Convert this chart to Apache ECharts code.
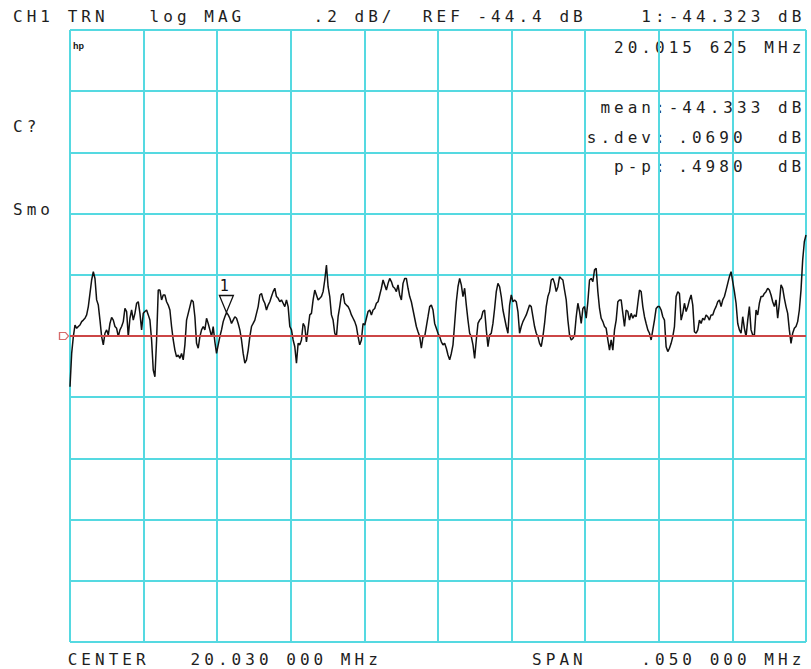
<!DOCTYPE html>
<html>
<head>
<meta charset="utf-8">
<title>CH1 TRN log MAG</title>
<script src="https://cdn.jsdelivr.net/npm/echarts@6/dist/echarts.min.js"></script>
<style>
  html, body { margin: 0; padding: 0; background: #ffffff; }
  #chart { width: 811px; height: 669px; }
  /* analyzer screen font: fixed character cells */
  #chart text { letter-spacing: 4.03px; white-space: pre; }
  #chart text[style*="Liberation Sans"] { letter-spacing: 0; }
</style>
</head>
<body>
<div id="chart"></div>
<script>
// Sweep settings
const centerMHz = 20.030;
const spanMHz = 0.050;
const refLevel = -44.4;      // dB, reference line
const scaleDiv = 0.2;        // dB per division
const divisions = 10;

// Marker 1
const markerFreq = 20.015625;
const markerValue = -44.323;

// Trace statistics
const statMean = -44.333;
const statSdev = 0.0690;
const statPP = 0.4980;

// Measured trace (dB), uniform sweep points, in three parts
const traceSeg1 = [
  -44.566, -44.457, -44.402, -44.364, -44.375, -44.369, -44.364, -44.353, -44.348, -44.342,
  -44.331, -44.304, -44.261, -44.217, -44.190, -44.212, -44.282, -44.299, -44.348, -44.402,
  -44.429, -44.391, -44.380, -44.397, -44.359, -44.339, -44.348, -44.369, -44.375, -44.402,
  -44.380, -44.369, -44.353, -44.310, -44.320, -44.402, -44.342, -44.315, -44.348, -44.326,
  -44.293, -44.288, -44.326, -44.380, -44.326, -44.320, -44.315, -44.331, -44.348, -44.413,
  -44.511, -44.533, -44.413, -44.250, -44.250, -44.282, -44.266, -44.266, -44.288, -44.299,
  -44.315, -44.369, -44.413, -44.446, -44.468, -44.462, -44.473, -44.457, -44.478, -44.429,
  -44.348, -44.326, -44.304, -44.282, -44.288, -44.337, -44.424, -44.440, -44.402, -44.380,
  -44.369, -44.380, -44.342, -44.359, -44.380, -44.402, -44.369, -44.419, -44.457, -44.429,
  -44.402, -44.380, -44.353, -44.337, -44.323, -44.331, -44.342, -44.359, -44.348, -44.337,
  -44.342, -44.359, -44.380, -44.413, -44.457, -44.489, -44.478, -44.446, -44.402, -44.369,
  -44.359, -44.348, -44.326, -44.304, -44.266, -44.261, -44.282, -44.293, -44.315, -44.299,
  -44.288, -44.271, -44.255, -44.244, -44.271, -44.277, -44.288, -44.282, -44.293, -44.304,
  -44.282, -44.304, -44.369, -44.380, -44.413, -44.435, -44.489, -44.424
];
const traceSeg2 = [
  -44.429, -44.413, -44.359, -44.369, -44.419, -44.375, -44.331, -44.326, -44.282, -44.250,
  -44.266, -44.282, -44.277, -44.271, -44.255, -44.217, -44.168, -44.239, -44.271, -44.331,
  -44.348, -44.391, -44.402, -44.337, -44.304, -44.266, -44.261, -44.293, -44.299, -44.304,
  -44.315, -44.331, -44.342, -44.353, -44.369, -44.402, -44.429, -44.413, -44.359, -44.364,
  -44.342, -44.320, -44.315, -44.331, -44.315, -44.310, -44.293, -44.288, -44.266, -44.244,
  -44.217, -44.233, -44.250, -44.228, -44.212, -44.222, -44.239, -44.244, -44.255, -44.233,
  -44.266, -44.282, -44.228, -44.212, -44.212, -44.244, -44.271, -44.288, -44.315, -44.342,
  -44.369, -44.386, -44.402, -44.440, -44.402, -44.402, -44.369, -44.337, -44.304, -44.299,
  -44.315, -44.359, -44.375, -44.391, -44.402, -44.419, -44.429, -44.424, -44.440, -44.462,
  -44.478, -44.457, -44.429, -44.359, -44.288, -44.239, -44.212, -44.233, -44.271, -44.244,
  -44.299, -44.348, -44.391, -44.402, -44.429, -44.473, -44.413, -44.359, -44.348, -44.342,
  -44.320, -44.315, -44.380, -44.435, -44.397, -44.391, -44.359, -44.310, -44.255, -44.228,
  -44.239, -44.271, -44.315, -44.342, -44.369, -44.391, -44.299, -44.266, -44.288, -44.282,
  -44.288, -44.320, -44.391, -44.369, -44.353, -44.342, -44.331, -44.315, -44.299, -44.304,
  -44.337, -44.369, -44.391, -44.402, -44.424, -44.435, -44.402, -44.359, -44.304, -44.271
];
const traceSeg3 = [
  -44.255, -44.217, -44.212, -44.228, -44.255, -44.239, -44.206, -44.212, -44.217, -44.250,
  -44.282, -44.348, -44.397, -44.413, -44.408, -44.397, -44.337, -44.293, -44.320, -44.359,
  -44.310, -44.304, -44.342, -44.288, -44.217, -44.212, -44.222, -44.184, -44.179, -44.255,
  -44.310, -44.342, -44.353, -44.369, -44.375, -44.413, -44.446, -44.413, -44.446, -44.380,
  -44.348, -44.288, -44.282, -44.282, -44.326, -44.369, -44.315, -44.320, -44.348, -44.326,
  -44.342, -44.331, -44.337, -44.293, -44.250, -44.255, -44.304, -44.337, -44.359, -44.380,
  -44.391, -44.413, -44.380, -44.348, -44.310, -44.304, -44.304, -44.315, -44.337, -44.348,
  -44.435, -44.451, -44.440, -44.424, -44.402, -44.369, -44.271, -44.255, -44.261, -44.348,
  -44.326, -44.293, -44.320, -44.304, -44.282, -44.266, -44.299, -44.386, -44.391, -44.380,
  -44.348, -44.359, -44.342, -44.348, -44.331, -44.337, -44.348, -44.331, -44.331, -44.315,
  -44.304, -44.288, -44.282, -44.304, -44.282, -44.271, -44.250, -44.228, -44.206, -44.190,
  -44.222, -44.255, -44.293, -44.359, -44.380, -44.391, -44.337, -44.375, -44.402, -44.348,
  -44.304, -44.380, -44.397, -44.397, -44.315, -44.331, -44.293, -44.271, -44.271, -44.261,
  -44.255, -44.244, -44.250, -44.266, -44.288, -44.304, -44.282, -44.342, -44.293, -44.233,
  -44.244, -44.277, -44.304, -44.326, -44.380, -44.424, -44.391, -44.375, -44.369, -44.353,
  -44.315, -44.250, -44.152, -44.092, -44.070
];

// ---- derived sweep ----
const trace = traceSeg1.concat(traceSeg2, traceSeg3);
const startMHz = centerMHz - spanMHz / 2;
const stopMHz = centerMHz + spanMHz / 2;
const nPts = trace.length;
const traceData = trace.map((v, i) => [startMHz + i * spanMHz / (nPts - 1), v]);
const topDb = refLevel + scaleDiv * divisions / 2;
const botDb = refLevel - scaleDiv * divisions / 2;

// ---- screen annotation helpers ----
const MONO = '16px "DejaVu Sans Mono"';
const INK = '#1e1e1e';
const CELL = 13.66, CELL0 = 13;
function fmtMHz(f) {
  const s = f.toFixed(6);
  const [ip, fp] = s.split('.');
  return ip + '.' + fp.slice(0, 3) + ' ' + fp.slice(3) + ' MHz';
}
function txt(str, col, baseline) {
  return {
    type: 'text', silent: true,
    x: CELL0 + col * CELL, y: baseline - 5.5,
    style: { text: str, font: MONO, fill: INK, textAlign: 'left', textVerticalAlign: 'middle' }
  };
}
const stat4 = v => v.toFixed(4).replace(/^0/, '');

const screenText = [
  txt('CH1', 0, 21.5),
  txt('TRN', 4, 21.5),
  txt('log MAG', 10, 21.5),
  txt('.' + String(scaleDiv).split('.')[1] + ' dB/', 22, 21.5),
  txt('REF ' + refLevel.toFixed(1) + ' dB', 30, 21.5),
  txt('1:' + markerValue.toFixed(3) + ' dB', 46, 21.5),
  txt(fmtMHz(markerFreq).replace(/^(\d+\.\d{3}) (\d{3})/, '$1 $2'), 44, 53.3),
  txt('mean:' + statMean.toFixed(3) + ' dB', 43, 113),
  txt('s.dev:', 42, 143),
  txt(stat4(statSdev), 48.7, 143),
  txt('dB', 56, 143),
  txt('p-p:', 44, 172),
  txt(stat4(statPP), 48.7, 172),
  txt('dB', 56, 172),
  txt('C?', 0, 131.7),
  txt('Smo', 0, 215),
  txt('CENTER', 4, 665),
  txt(fmtMHz(centerMHz), 13, 665),
  txt('SPAN', 38, 665),
  txt(fmtMHz(spanMHz).replace(/^0/, ''), 46, 665),
  {
    type: 'text', silent: true, x: 73, y: 46,
    style: { text: 'hp', font: 'bold 9px "Liberation Sans"', fill: '#111', textAlign: 'left', textVerticalAlign: 'middle' }
  }
];

const GRID_COLOR = '#55d9e1';
const REF_COLOR = '#cc4646';

const chart = echarts.init(document.getElementById('chart'), null, { renderer: 'svg' });
chart.setOption({
  animation: false,
  backgroundColor: '#ffffff',
  grid: { left: 70, right: 5, top: 30, bottom: 27, containLabel: false },
  xAxis: {
    type: 'value', min: startMHz, max: stopMHz, interval: spanMHz / divisions,
    axisLine: { show: false }, axisTick: { show: false }, axisLabel: { show: false },
    splitLine: { show: true, showMinLine: true, showMaxLine: true, lineStyle: { color: GRID_COLOR, width: 2 } }
  },
  yAxis: {
    type: 'value', min: botDb, max: topDb, interval: scaleDiv,
    axisLine: { show: false }, axisTick: { show: false }, axisLabel: { show: false },
    splitLine: { show: true, showMinLine: true, showMaxLine: true, lineStyle: { color: GRID_COLOR, width: 2 } }
  },
  series: [
    {
      type: 'line',
      data: traceData,
      showSymbol: false,
      silent: true,
      z: 3,
      lineStyle: { color: '#111111', width: 1.5 },
      markLine: {
        silent: true,
        symbol: ['none', 'none'],
        label: { show: false },
        lineStyle: { color: REF_COLOR, width: 2, type: 'solid' },
        data: [{ yAxis: refLevel }]
      },
      markPoint: {
        silent: true,
        symbol: 'path://M0,0L14,0L7,17Z',
        symbolSize: [14, 17],
        symbolOffset: [0, '-50%'],
        itemStyle: { color: 'rgba(255,255,255,0)', borderColor: '#111111', borderWidth: 1.3 },
        label: {
          show: true, formatter: '1', position: 'top', distance: 1,
          color: '#111111', fontFamily: 'DejaVu Sans Mono', fontSize: 15
        },
        data: [{ coord: [markerFreq, markerValue] }]
      }
    },
    {
      // reference position flag at the left edge
      type: 'scatter',
      silent: true,
      clip: false,
      z: 4,
      data: [[startMHz, refLevel]],
      symbol: 'path://M0,0L6,0L9,3.5L6,7L0,7Z',
      symbolSize: [9, 7],
      symbolOffset: [-6, 0],
      itemStyle: { color: '#ffffff', borderColor: REF_COLOR, borderWidth: 1.2 }
    }
  ],
  graphic: screenText
});
</script>
</body>
</html>
